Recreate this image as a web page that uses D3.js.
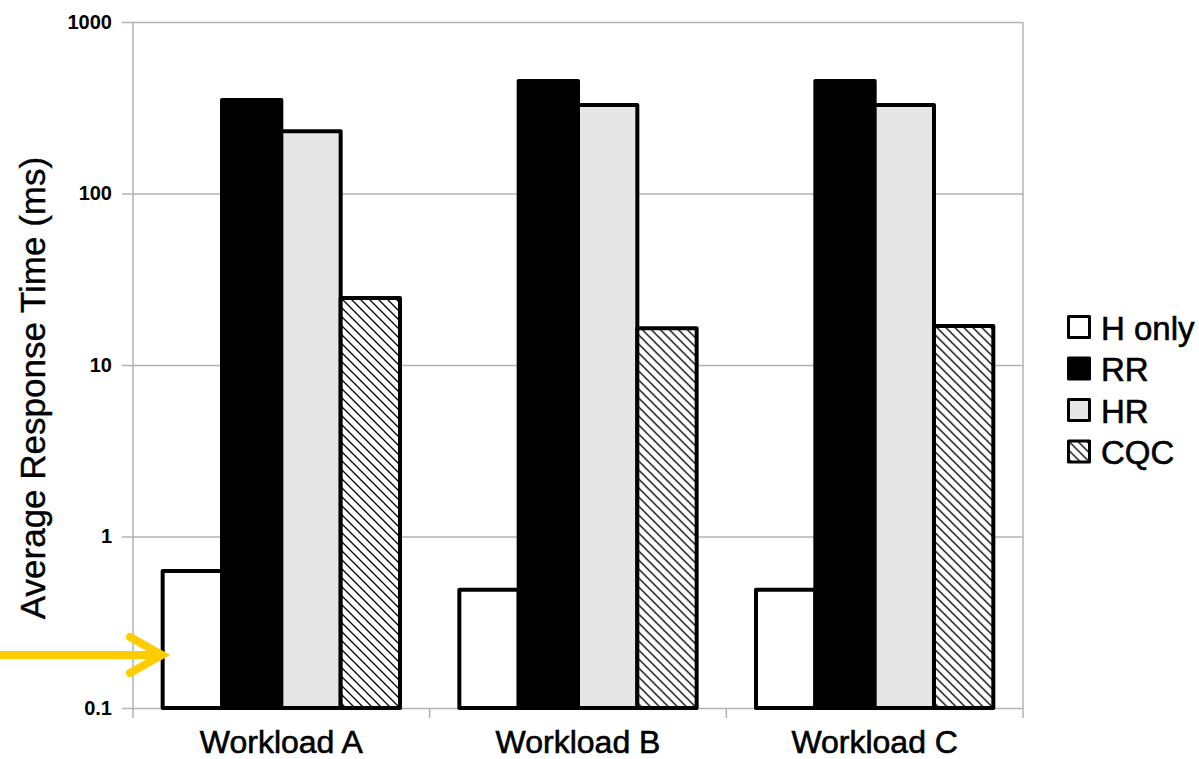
<!DOCTYPE html>
<html>
<head>
<meta charset="utf-8">
<script src="https://cdn.jsdelivr.net/npm/d3@7"></script>
<style>
  body { margin: 0; background: #fff; }
  text { font-family: "Liberation Sans", Arial, sans-serif; }
</style>
</head>
<body>
<div id="chart"></div>
<script>
// data
const workloads = ["Workload A", "Workload B", "Workload C"];
const seriesNames = ["H only", "RR", "HR", "CQC"];
const hOnly = [0.63, 0.49, 0.49];
const rr = [351, 453, 453];
const hr = [231, 328, 328];
const cqc = [24.6, 16.4, 16.9];
const yTicks = [0.1, 1, 10, 100, 1000];
const yTickLabels = ["0.1", "1", "10", "100", "1000"];

const width = 1199, height = 759;
const margin = { left: 133, right: 176, top: 22, bottom: 51 };

const svg = d3.select("#chart").append("svg")
  .attr("width", width)
  .attr("height", height);

// hatch pattern for CQC
const defs = svg.append("defs");
const pat = defs.append("pattern")
  .attr("id", "hatch")
  .attr("patternUnits", "userSpaceOnUse")
  .attr("width", 9).attr("height", 9);
pat.append("rect").attr("width", 9).attr("height", 9).attr("fill", "#fff");
pat.append("path")
  .attr("d", "M0,0 L9,9 M-4.5,4.5 L4.5,13.5 M4.5,-4.5 L13.5,4.5")
  .attr("stroke", "#000").attr("stroke-width", 1.3);

const fills = ["#ffffff", "#000000", "#e6e6e6", "url(#hatch)"];
const values = [hOnly, rr, hr, cqc];

const x0 = d3.scaleBand().domain(workloads)
  .range([margin.left, width - margin.right]).paddingInner(0).paddingOuter(0);
// bars take the middle 80% of each group
const x1 = d3.scaleBand().domain(seriesNames)
  .range([x0.bandwidth() * 0.1, x0.bandwidth() * 0.9]);

const y = d3.scaleLog().domain([0.1, 1000]).range([height - margin.bottom, margin.top]);

const gridColor = "#b3b3b3";
const txtStroke = 0.6; // reference text looks heavier than plain regular

// horizontal grid lines + small ticks left of the plot
const gy = svg.append("g")
  .attr("transform", `translate(${width - margin.right},0)`)
  .call(d3.axisLeft(y).tickValues(yTicks).tickFormat("").tickSize(width - margin.right - margin.left + 11));
gy.select(".domain").remove();
gy.selectAll("line").attr("stroke", gridColor).attr("stroke-width", 1.5);

const gyl = svg.append("g").attr("transform", `translate(${margin.left - 11},0)`)
  .call(d3.axisLeft(y).tickValues(yTicks).tickFormat((d, i) => yTickLabels[i]).tickSize(0).tickPadding(10));
gyl.select(".domain").remove();
gyl.selectAll("text").attr("font-size", 20).attr("font-weight", "bold").attr("fill", "#000")
  .attr("font-family", "Liberation Sans, Arial, sans-serif");

// left and right frame lines
svg.append("g").selectAll("line").data([margin.left, width - margin.right]).enter().append("line")
  .attr("x1", d => d).attr("x2", d => d)
  .attr("y1", margin.top).attr("y2", height - margin.bottom + 10)
  .attr("stroke", gridColor).attr("stroke-width", 1.5);

// category boundary ticks below the axis
const inner = workloads.slice(1).map(w => x0(w));
svg.append("g").selectAll("line").data(inner).enter().append("line")
  .attr("x1", d => d).attr("x2", d => d)
  .attr("y1", height - margin.bottom).attr("y2", height - margin.bottom + 10)
  .attr("stroke", gridColor).attr("stroke-width", 1.5);

// x axis labels
const gx = svg.append("g").attr("transform", `translate(0,${height - margin.bottom})`)
  .call(d3.axisBottom(x0).tickSize(0).tickPadding(22));
gx.select(".domain").remove();
gx.selectAll("text").attr("font-size", 32).attr("fill", "#000")
  .attr("stroke", "#000").attr("stroke-width", txtStroke)
  .attr("font-family", "Liberation Sans, Arial, sans-serif");

// bars
const groups = svg.append("g").selectAll("g").data(workloads).enter().append("g")
  .attr("transform", d => `translate(${x0(d)},0)`);
groups.selectAll("rect")
  .data((w, wi) => seriesNames.map((s, si) => ({ s, si, v: values[si][wi] })))
  .enter().append("rect")
  .attr("x", d => x1(d.s))
  .attr("width", x1.bandwidth())
  .attr("y", d => y(d.v))
  .attr("height", d => y(0.1) - y(d.v))
  .attr("fill", d => fills[d.si])
  .attr("stroke", "#000")
  .attr("stroke-width", 4)
  .attr("stroke-linejoin", "round");

// y axis title
svg.append("text")
  .text("Average Response Time (ms)")
  .attr("transform", `translate(45,${(margin.top + height - margin.bottom) / 2 + 23}) rotate(-90)`)
  .attr("text-anchor", "middle")
  .attr("font-size", 35)
  .attr("stroke", "#000").attr("stroke-width", 0.4)
  .attr("fill", "#000");

// legend
const legend = svg.append("g").attr("transform", "translate(1067,315)");
const li = legend.selectAll("g").data(seriesNames).enter().append("g")
  .attr("transform", (d, i) => `translate(0,${i * 41.5})`);
li.append("rect")
  .attr("x", 1.5).attr("y", 1.5).attr("width", 21).attr("height", 21)
  .attr("fill", (d, i) => fills[i])
  .attr("stroke", "#000").attr("stroke-width", 3)
  .attr("stroke-linejoin", "round");
li.append("text")
  .text(d => d)
  .attr("x", 34).attr("y", 13)
  .attr("dy", "0.35em")
  .attr("font-size", 33)
  .attr("stroke", "#000").attr("stroke-width", txtStroke)
  .attr("fill", "#000");

// yellow arrow
const arrowY = 655;
svg.append("line")
  .attr("x1", 0).attr("x2", 162).attr("y1", arrowY).attr("y2", arrowY)
  .attr("stroke", "#ffcc00").attr("stroke-width", 8);
svg.append("path")
  .attr("d", `M130,${arrowY - 18} L162,${arrowY} L130,${arrowY + 18}`)
  .attr("fill", "none").attr("stroke", "#ffcc00").attr("stroke-width", 8)
  .attr("stroke-linecap", "round").attr("stroke-linejoin", "miter");
</script>
</body>
</html>
